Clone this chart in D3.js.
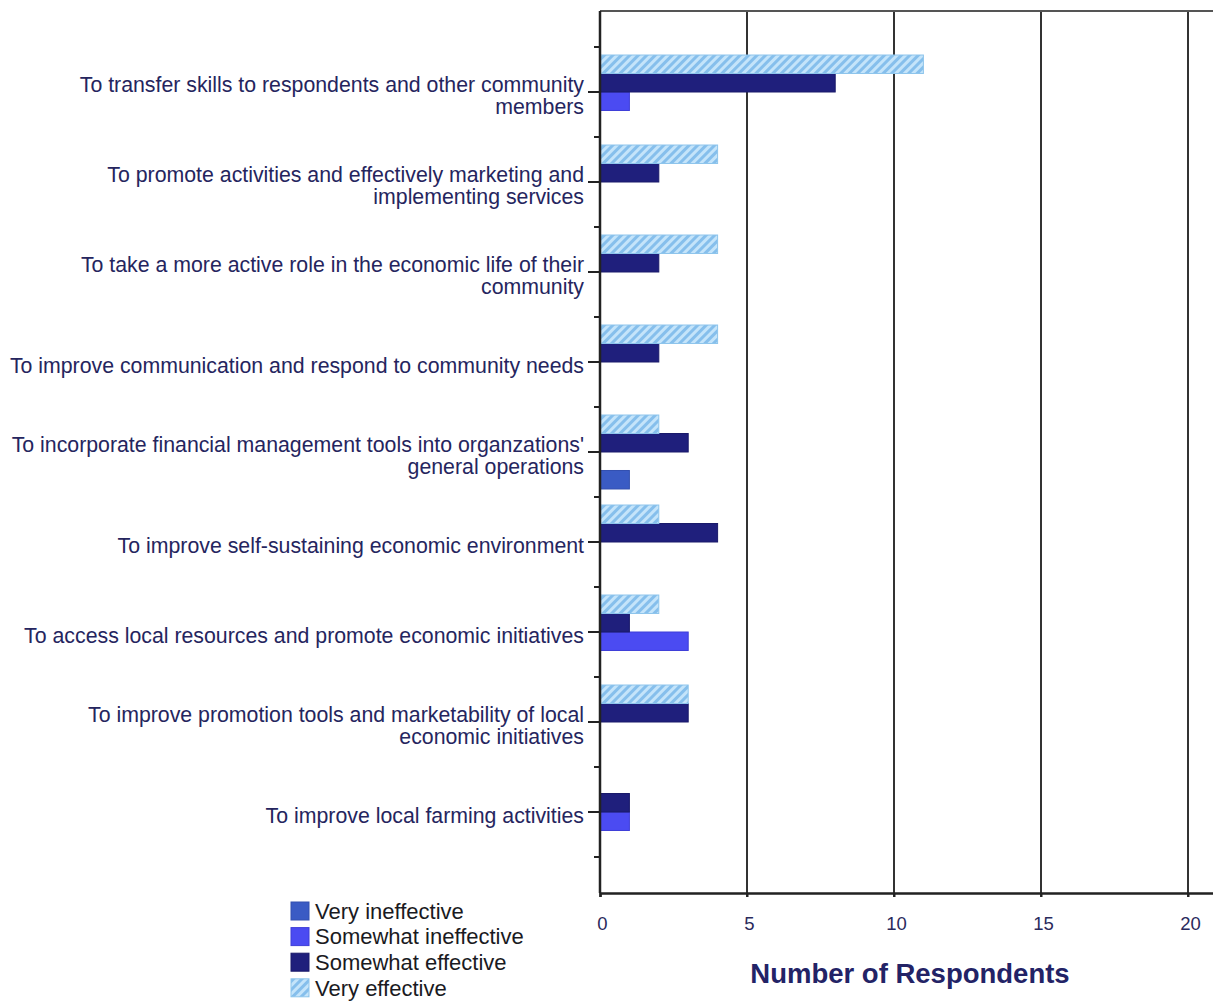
<!DOCTYPE html>
<html>
<head>
<meta charset="utf-8">
<script src="https://cdn.jsdelivr.net/npm/d3@7"></script>
<style>
  body { margin: 0; background: #fff; }
  svg { display: block; font-family: "Liberation Sans", Arial, sans-serif; }
</style>
</head>
<body>
<script>
'use strict';

var width = 1213, height = 1002;

// categories, top to bottom (lines split the way the chart wraps them)
var categories = [
  ["To transfer skills to respondents and other community", "members"],
  ["To promote activities and effectively marketing and", "implementing services"],
  ["To take a more active role in the economic life of their", "community"],
  ["To improve communication and respond to community needs"],
  ["To incorporate financial management tools into organzations'", "general operations"],
  ["To improve self-sustaining economic environment"],
  ["To access local resources and promote economic initiatives"],
  ["To improve promotion tools and marketability of local", "economic initiatives"],
  ["To improve local farming activities"]
];

var seriesNames = ["Very ineffective", "Somewhat ineffective", "Somewhat effective", "Very effective"];
var veryIneffective     = [0, 0, 0, 0, 1, 0, 0, 0, 0];
var somewhatIneffective = [1, 0, 0, 0, 0, 0, 3, 0, 1];
var somewhatEffective   = [8, 2, 2, 2, 3, 4, 1, 3, 1];
var veryEffective       = [11, 4, 4, 4, 2, 2, 2, 3, 0];
var xTicks = [0, 5, 10, 15, 20];

var seriesValues = [veryIneffective, somewhatIneffective, somewhatEffective, veryEffective];
var fills = ["#3a5bc4", "#4b4bf2", "#1f1f7c", "url(#hatch)"];
var strokes = ["#3350b0", "#3f3fd8", "#1a1a6a", "#8ec5ec"];

var svg = d3.select("body").append("svg")
  .attr("width", width)
  .attr("height", height);

// hatch for "Very effective"
var pat = svg.append("defs").append("pattern")
  .attr("id", "hatch")
  .attr("patternUnits", "userSpaceOnUse")
  .attr("width", 6).attr("height", 6)
  .attr("patternTransform", "rotate(45)");
pat.append("rect").attr("width", 6).attr("height", 6).attr("fill", "#c4e4fa");
pat.append("rect").attr("width", 3).attr("height", 6).attr("fill", "#86bfec");

var plotLeft = 600, plotTop = 11, plotBottom = 893;

var x = d3.scaleLinear().domain([0, 25]).range([plotLeft, plotLeft + 25 * 29.4]);

var y = d3.scaleBand()
  .domain(d3.range(categories.length))
  .range([47, 857])
  .paddingInner(0.178)
  .paddingOuter(0.089);

// bars inside a group: "Very effective" on top
var ySub = d3.scaleBand()
  .domain([3, 2, 1, 0])
  .range([0, y.bandwidth()]);

// gridlines
svg.append("g").selectAll("line")
  .data(xTicks.slice(1).concat([25]))
  .enter().append("line")
  .attr("x1", function(d) { return x(d); })
  .attr("x2", function(d) { return x(d); })
  .attr("y1", plotTop).attr("y2", plotBottom + 4)
  .attr("stroke", "#333").attr("stroke-width", 2);

// top border
svg.append("line")
  .attr("x1", plotLeft).attr("x2", width)
  .attr("y1", plotTop).attr("y2", plotTop)
  .attr("stroke", "#555").attr("stroke-width", 2);

// bars
var groups = svg.append("g").selectAll("g")
  .data(categories)
  .enter().append("g")
  .attr("transform", function(d, i) { return "translate(0," + y(i) + ")"; });

groups.selectAll("rect")
  .data(function(d, i) {
    return seriesValues.map(function(vals, s) { return { s: s, v: vals[i] }; })
      .filter(function(b) { return b.v > 0; });
  })
  .enter().append("rect")
  .attr("x", x(0))
  .attr("y", function(d) { return ySub(d.s); })
  .attr("width", function(d) { return x(d.v) - x(0); })
  .attr("height", ySub.bandwidth())
  .attr("fill", function(d) { return fills[d.s]; })
  .attr("stroke", function(d) { return strokes[d.s]; })
  .attr("stroke-width", 1);

// x axis
var xAxis = svg.append("g")
  .attr("transform", "translate(0," + plotBottom + ")")
  .call(d3.axisBottom(x).tickValues(xTicks).tickSize(4).tickPadding(20));
xAxis.select(".domain").attr("stroke", "#222").attr("stroke-width", 2.5);
xAxis.selectAll(".tick line").attr("stroke", "#222").attr("stroke-width", 2);
xAxis.selectAll(".tick text")
  .attr("x", 2)
  .attr("font-size", 18.5)
  .attr("font-family", "'Liberation Sans', Arial, sans-serif")
  .attr("fill", "#2a2a5c");

// y axis line
svg.append("line")
  .attr("x1", plotLeft).attr("x2", plotLeft)
  .attr("y1", plotTop).attr("y2", plotBottom)
  .attr("stroke", "#222").attr("stroke-width", 2.5);

// minor ticks at group boundaries
var bounds = d3.range(categories.length + 1).map(function(i) { return 47 + i * y.step(); });
svg.append("g").selectAll("line")
  .data(bounds)
  .enter().append("line")
  .attr("x1", plotLeft - 6).attr("x2", plotLeft)
  .attr("y1", function(d) { return d; }).attr("y2", function(d) { return d; })
  .attr("stroke", "#222").attr("stroke-width", 2);

// major ticks at group centres
svg.append("g").selectAll("line")
  .data(categories)
  .enter().append("line")
  .attr("x1", plotLeft - 12).attr("x2", plotLeft)
  .attr("y1", function(d, i) { return y(i) + y.bandwidth() / 2; })
  .attr("y2", function(d, i) { return y(i) + y.bandwidth() / 2; })
  .attr("stroke", "#222").attr("stroke-width", 2);

// category labels
var lineH = 22;
svg.append("g").selectAll("text")
  .data(categories)
  .enter().append("text")
  .attr("text-anchor", "end")
  .attr("font-size", 21.3)
  .attr("fill", "#25255e")
  .each(function(d, i) {
    var cy = y(i) + y.bandwidth() / 2 + 4;
    var y0 = cy - (d.length - 1) * lineH / 2;
    d3.select(this).selectAll("tspan")
      .data(d)
      .enter().append("tspan")
      .attr("x", 584)
      .attr("y", function(t, k) { return y0 + k * lineH; })
      .attr("dy", "0.35em")
      .text(function(t) { return t; });
  });

// axis title
svg.append("text")
  .attr("x", 910).attr("y", 973)
  .attr("dy", "0.35em")
  .attr("text-anchor", "middle")
  .attr("font-size", 27.5)
  .attr("font-weight", "bold")
  .attr("fill", "#232366")
  .text("Number of Respondents");

// legend
var legend = svg.append("g").selectAll("g")
  .data(seriesNames)
  .enter().append("g")
  .attr("transform", function(d, i) { return "translate(291," + (911 + i * 25.6) + ")"; });

legend.append("rect")
  .attr("x", 0).attr("y", -9)
  .attr("width", 18).attr("height", 18)
  .attr("fill", function(d, i) { return fills[i]; })
  .attr("stroke", function(d, i) { return strokes[i]; });

legend.append("text")
  .attr("x", 24).attr("y", 0)
  .attr("dy", "0.35em")
  .attr("font-size", 22)
  .attr("fill", "#1a1a22")
  .text(function(d) { return d; });
</script>
</body>
</html>
